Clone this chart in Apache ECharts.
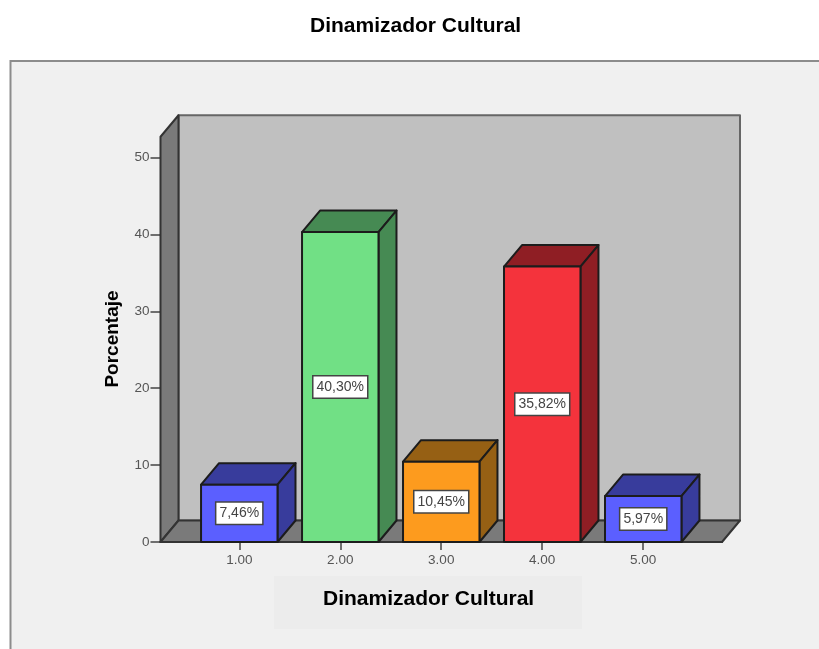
<!DOCTYPE html>
<html>
<head>
<meta charset="utf-8">
<style>
html, body { margin: 0; padding: 0; background: #fff; }
#chart { width: 819px; height: 649px; }
</style>
<script src="https://cdn.jsdelivr.net/npm/echarts@6/dist/echarts.min.js"></script>
</head>
<body>
<div id="chart"></div>
<script>
var chartTitle = 'Dinamizador Cultural';
var xAxisTitle = 'Dinamizador Cultural';
var yAxisTitle = 'Porcentaje';
var categories = ['1.00', '2.00', '3.00', '4.00', '5.00'];
var positions = [1, 2, 3, 4, 5];
var values = [7.46, 40.30, 10.45, 35.82, 5.97];
var valueLabels = ['7,46%', '40,30%', '10,45%', '35,82%', '5,97%'];
var yTicks = { min: 0, max: 50, interval: 10 };
var xRange = [0.22, 5.78];
var wallTop = 52.7;

// front, side/top colour per bar
var frontColors = ['#5b5fff', '#71e085', '#fd9b1e', '#f4333c', '#5b5fff'];
var sideColors = ['#383c9c', '#468a53', '#966014', '#8f1e24', '#383c9c'];

var DEPTH_X = 18, DEPTH_Y = 21.5;
var BAR_UNITS = 0.757;
var FONT = '"Liberation Sans", Arial, sans-serif';

var chart = echarts.init(document.getElementById('chart'));

function renderWalls(params, api) {
    var bl = api.coord([xRange[0], 0]);
    var br = api.coord([xRange[1], 0]);
    var tl = api.coord([xRange[0], wallTop]);
    function poly(points, fill, stroke) {
        return {
            type: 'polygon',
            shape: { points: points },
            style: { fill: fill, stroke: stroke || '#333', lineWidth: 2, lineJoin: 'round' }
        };
    }
    return {
        type: 'group',
        children: [
            poly([[bl[0] + DEPTH_X, tl[1] - DEPTH_Y], [br[0] + DEPTH_X, tl[1] - DEPTH_Y],
                  [br[0] + DEPTH_X, bl[1] - DEPTH_Y], [bl[0] + DEPTH_X, bl[1] - DEPTH_Y]], '#c0c0c0', '#666'),
            poly([[bl[0], tl[1]], [bl[0] + DEPTH_X, tl[1] - DEPTH_Y],
                  [bl[0] + DEPTH_X, bl[1] - DEPTH_Y], [bl[0], bl[1]]], '#7a7a7a'),
            poly([[bl[0], bl[1]], [bl[0] + DEPTH_X, bl[1] - DEPTH_Y],
                  [br[0] + DEPTH_X, bl[1] - DEPTH_Y], [br[0], br[1]]], '#7a7a7a')
        ]
    };
}

function renderBar(params, api) {
    var i = params.dataIndex;
    var x = api.value(0), v = api.value(1);
    var tl = api.coord([x - BAR_UNITS / 2, v]);
    var br = api.coord([x + BAR_UNITS / 2, 0]);
    var mid = api.coord([x, v / 2]);
    function style(fill) {
        return { fill: fill, stroke: '#1c1c1c', lineWidth: 2, lineJoin: 'round' };
    }
    return {
        type: 'group',
        children: [
            {
                type: 'polygon',
                shape: { points: [[tl[0], tl[1]], [tl[0] + DEPTH_X, tl[1] - DEPTH_Y],
                                  [br[0] + DEPTH_X, tl[1] - DEPTH_Y], [br[0], tl[1]]] },
                style: style(sideColors[i])
            },
            {
                type: 'polygon',
                shape: { points: [[br[0], tl[1]], [br[0] + DEPTH_X, tl[1] - DEPTH_Y],
                                  [br[0] + DEPTH_X, br[1] - DEPTH_Y], [br[0], br[1]]] },
                style: style(sideColors[i])
            },
            {
                type: 'rect',
                shape: { x: tl[0], y: tl[1], width: br[0] - tl[0], height: br[1] - tl[1] },
                style: style(frontColors[i])
            },
            {
                type: 'text',
                x: mid[0],
                y: mid[1],
                style: {
                    text: valueLabels[i],
                    fill: '#444',
                    font: '14px ' + FONT,
                    align: 'center',
                    verticalAlign: 'middle',
                    backgroundColor: '#fff',
                    borderColor: '#444',
                    borderWidth: 1.5,
                    padding: [4, 3, 3, 3]
                }
            }
        ]
    };
}

var option = {
    animation: false,
    backgroundColor: '#fff',
    title: [
        {
            text: chartTitle,
            left: 310,
            top: 16,
            padding: 0,
            textStyle: { color: '#000', fontFamily: FONT, fontWeight: 'bold', fontSize: 21 }
        },
        {
            text: xAxisTitle,
            left: 274,
            top: 576,
            padding: [13, 48, 19, 49],
            backgroundColor: '#ececec',
            textStyle: { color: '#000', fontFamily: FONT, fontWeight: 'bold', fontSize: 21 }
        }
    ],
    graphic: [
        {
            type: 'rect',
            z: -10,
            shape: { x: 10.5, y: 61, width: 900, height: 700 },
            style: { fill: '#f0f0f0', stroke: '#8c8c8c', lineWidth: 2 }
        },
        {
            type: 'text',
            z: 10,
            x: 113,
            y: 339,
            rotation: Math.PI / 2,
            style: {
                text: yAxisTitle,
                fill: '#000',
                font: 'bold 19px ' + FONT,
                align: 'center',
                verticalAlign: 'middle'
            }
        }
    ],
    grid: { left: 160.5, right: 97, top: 157.5, bottom: 107 },
    xAxis: {
        type: 'value',
        min: xRange[0],
        max: xRange[1],
        splitLine: { show: false },
        axisLine: { lineStyle: { color: '#333', width: 2 } },
        axisTick: { length: 8, customValues: positions, lineStyle: { color: '#444', width: 1.5 } },
        axisLabel: {
            customValues: positions,
            formatter: function (v) { return categories[positions.indexOf(v)]; },
            color: '#555',
            fontFamily: FONT,
            fontSize: 13.5,
            margin: 11
        }
    },
    yAxis: {
        type: 'value',
        min: yTicks.min,
        max: yTicks.max,
        interval: yTicks.interval,
        splitLine: { show: false },
        axisLine: { lineStyle: { color: '#333', width: 2 } },
        axisTick: { length: 10, lineStyle: { color: '#444', width: 1.5 } },
        axisLabel: { color: '#555', fontFamily: FONT, fontSize: 13.5, margin: 11 }
    },
    series: [
        {
            type: 'custom',
            name: 'walls',
            silent: true,
            renderItem: renderWalls,
            data: [[xRange[0], wallTop]]
        },
        {
            type: 'custom',
            name: yAxisTitle,
            renderItem: renderBar,
            encode: { x: 0, y: 1 },
            data: positions.map(function (p, i) { return [p, values[i]]; })
        }
    ]
};
chart.setOption(option);
</script>
</body>
</html>
